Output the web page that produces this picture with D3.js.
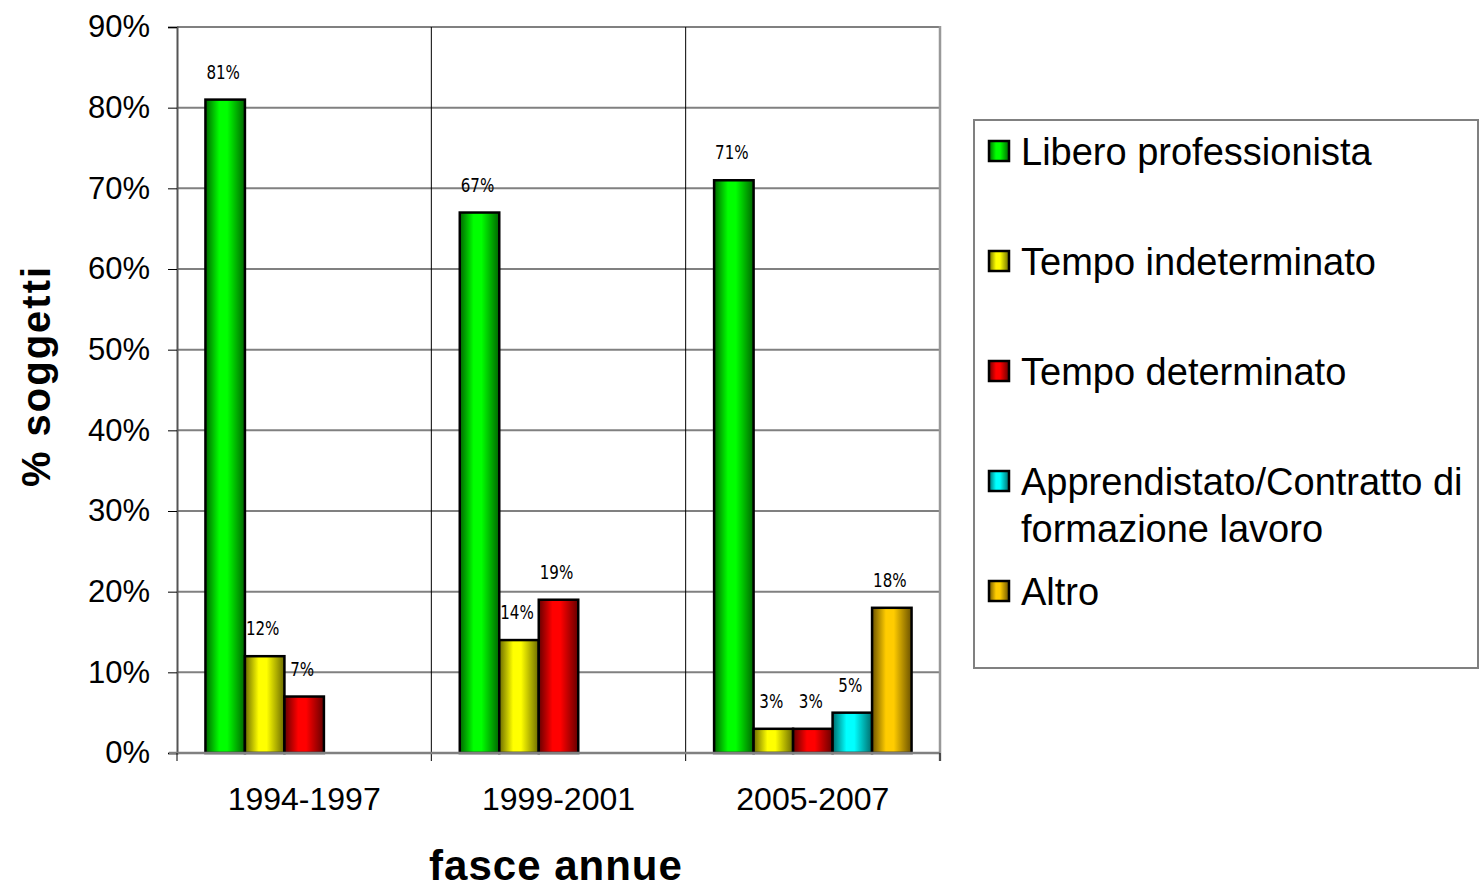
<!DOCTYPE html>
<html lang="it">
<head>
<meta charset="utf-8">
<style>
    body { margin: 0; background: #fff; }
    text { font-family: "Liberation Sans", Arial, sans-serif; }
    .grid line { stroke: #808080; stroke-width: 2; }
    .val { font-family: "DejaVu Sans Condensed", "DejaVu Sans", sans-serif; font-size: 20px; }
</style>
<script src="https://cdn.jsdelivr.net/npm/d3@7/dist/d3.min.js"></script>
</head>
<body>
<svg id="chart" width="1480" height="889"></svg>
<script>
var categories = ["1994-1997", "1999-2001", "2005-2007"];
var seriesNames = ["Libero professionista", "Tempo indeterminato", "Tempo determinato",
                   "Apprendistato/Contratto di formazione lavoro", "Altro"];
var legendLines = [["Libero professionista"], ["Tempo indeterminato"], ["Tempo determinato"],
                   ["Apprendistato/Contratto di", "formazione lavoro"], ["Altro"]];
// values per series, one per category (null = no bar)
var libero        = [81, 67, 71];
var indeterminato = [12, 14, 3];
var determinato   = [7, 19, 3];
var apprendistato = [null, null, 5];
var altro         = [null, null, 18];
var yTicks = [0, 10, 20, 30, 40, 50, 60, 70, 80, 90];

var values = [libero, indeterminato, determinato, apprendistato, altro];
var colors = [
    {dark: "#006600", light: "#00ff00"},
    {dark: "#6b6b00", light: "#ffff00"},
    {dark: "#660000", light: "#ff0000"},
    {dark: "#006b6b", light: "#00ffff"},
    {dark: "#6b5200", light: "#ffcc00"}
];

var svg = d3.select("#chart");
var pLeft = 177, pRight = 940, pTop = 27, pBottom = 753;

var x0 = d3.scaleBand().domain(categories).range([pLeft, pRight]);
var x1 = d3.scaleBand().domain(d3.range(seriesNames.length))
    .range([0, x0.bandwidth()]).paddingInner(0).paddingOuter(0.72);
var y = d3.scaleLinear().domain([0, 90]).range([pBottom, pTop]);

// gradients
var defs = svg.append("defs");
colors.forEach(function(c, i) {
    var g = defs.append("linearGradient").attr("id", "grad" + i)
        .attr("x1", "0%").attr("x2", "100%").attr("y1", "0%").attr("y2", "0%");
    g.append("stop").attr("offset", "0%").attr("stop-color", c.dark);
    g.append("stop").attr("offset", "35%").attr("stop-color", c.light);
    g.append("stop").attr("offset", "55%").attr("stop-color", c.light);
    g.append("stop").attr("offset", "100%").attr("stop-color", c.dark);
});

// horizontal gridlines
svg.append("g").attr("class", "grid")
    .selectAll("line").data(yTicks.slice(1)).enter().append("line")
    .attr("x1", pLeft).attr("x2", pRight)
    .attr("y1", function(d) { return y(d); }).attr("y2", function(d) { return y(d); });

// vertical category lines
svg.append("g")
    .selectAll("line").data(categories.slice(1)).enter().append("line")
    .attr("x1", function(d) { return x0(d); }).attr("x2", function(d) { return x0(d); })
    .attr("y1", pTop).attr("y2", pBottom + 8)
    .attr("stroke", "#000").attr("stroke-width", 1);

// right border
svg.append("line").attr("x1", pRight).attr("x2", pRight).attr("y1", pTop - 1).attr("y2", pBottom + 8)
    .attr("stroke", "#999").attr("stroke-width", 2.5);

// bars
var groups = svg.append("g").selectAll("g").data(categories).enter().append("g")
    .attr("transform", function(d) { return "translate(" + x0(d) + ",0)"; });

groups.each(function(cat, ci) {
    var g = d3.select(this);
    var items = values.map(function(v, si) { return {s: si, v: v[ci]}; })
        .filter(function(d) { return d.v != null; });
    g.selectAll("rect").data(items).enter().append("rect")
        .attr("x", function(d) { return x1(d.s); })
        .attr("y", function(d) { return y(d.v); })
        .attr("width", x1.bandwidth())
        .attr("height", function(d) { return y(0) - y(d.v); })
        .attr("fill", function(d) { return "url(#grad" + d.s + ")"; })
        .attr("stroke", "#000").attr("stroke-width", 2.5);
    // narrow, tall value labels
    g.selectAll("text").data(items).enter().append("text")
        .attr("class", "val")
        .attr("transform", function(d) {
            return "translate(" + (x1(d.s) + x1.bandwidth() / 2 - 2) + "," + (y(d.v) - 21) + ") scale(0.84,1)";
        })
        .attr("text-anchor", "middle")
        .text(function(d) { return d.v + "%"; });
});

// y axis
var yAxis = svg.append("g").attr("transform", "translate(" + pLeft + ",0)")
    .call(d3.axisLeft(y).tickValues(yTicks).tickSize(9).tickPadding(18)
        .tickFormat(function(d) { return d + "%"; }));
yAxis.select(".domain").attr("stroke", "#555").attr("stroke-width", 2);
yAxis.selectAll(".tick line").attr("stroke", "#000");
yAxis.selectAll("text").attr("font-size", 31).attr("font-family", "Liberation Sans, Arial, sans-serif")
    .attr("fill", "#000");

// x axis
var xAxis = svg.append("g").attr("transform", "translate(0," + pBottom + ")")
    .call(d3.axisBottom(x0).tickSize(0).tickPadding(34));
xAxis.select(".domain").remove();
svg.append("line").attr("x1", pLeft - 8).attr("x2", pRight).attr("y1", pBottom).attr("y2", pBottom)
    .attr("stroke", "#808080").attr("stroke-width", 2.5);
svg.append("g").selectAll("line").data([pLeft, pRight]).enter().append("line")
    .attr("x1", function(d) { return d; }).attr("x2", function(d) { return d; })
    .attr("y1", pBottom).attr("y2", pBottom + 8).attr("stroke", "#000");
xAxis.selectAll("text").attr("font-size", 32).attr("font-family", "Liberation Sans, Arial, sans-serif")
    .attr("fill", "#000");

// axis titles
svg.append("text")
    .attr("transform", "translate(50," + 376 + ") rotate(-90)")
    .attr("text-anchor", "middle")
    .attr("font-size", 40).attr("font-weight", "bold").attr("letter-spacing", 2)
    .text("% soggetti");
svg.append("text")
    .attr("x", 556).attr("y", 880)
    .attr("text-anchor", "middle")
    .attr("font-size", 42).attr("font-weight", "bold").attr("letter-spacing", 1)
    .text("fasce annue");

// legend
var lg = svg.append("g");
lg.append("rect").attr("x", 974).attr("y", 120).attr("width", 504).attr("height", 548)
    .attr("fill", "#fff").attr("stroke", "#808080").attr("stroke-width", 2);
var rowY = [151, 261, 371, 481, 591];
legendLines.forEach(function(lines, i) {
    lg.append("rect").attr("x", 989).attr("y", rowY[i] - 10).attr("width", 20).attr("height", 20)
        .attr("fill", "url(#grad" + i + ")").attr("stroke", "#000").attr("stroke-width", 2.5);
    lines.forEach(function(t, j) {
        lg.append("text").attr("x", 1021).attr("y", rowY[i] + j * 47)
            .attr("dy", "0.36em").attr("font-size", 38).text(t);
    });
});
</script>
</body>
</html>
